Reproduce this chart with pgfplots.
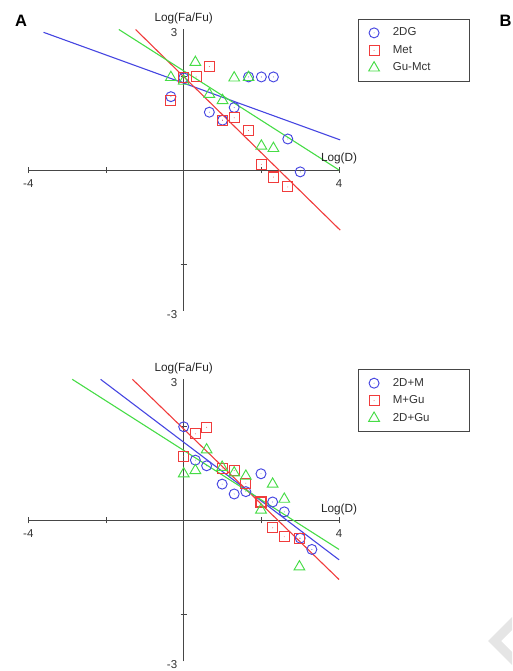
\documentclass[border=0pt]{standalone}
\usepackage{fontspec}
\setmainfont{Liberation Sans}
\usepackage{pgfplots}
\pgfplotsset{compat=1.18}
\definecolor{cblue}{RGB}{70,70,225}
\definecolor{cred}{RGB}{240,60,60}
\definecolor{cgreen}{RGB}{70,220,70}
\definecolor{axgray}{RGB}{70,70,70}
\pgfdeclareplotmark{ocirc}{%
  \pgfpathcircle{\pgfpointorigin}{\pgfplotmarksize}\pgfusepathqstroke
  \pgfpathcircle{\pgfpointorigin}{0.45pt}\pgfusepathqfill}
\pgfdeclareplotmark{osquare}{%
  \pgfpathmoveto{\pgfpoint{-\pgfplotmarksize}{-\pgfplotmarksize}}%
  \pgfpathlineto{\pgfpoint{\pgfplotmarksize}{-\pgfplotmarksize}}%
  \pgfpathlineto{\pgfpoint{\pgfplotmarksize}{\pgfplotmarksize}}%
  \pgfpathlineto{\pgfpoint{-\pgfplotmarksize}{\pgfplotmarksize}}%
  \pgfpathclose\pgfusepathqstroke
  \pgfpathcircle{\pgfpointorigin}{0.45pt}\pgfusepathqfill}
\pgfdeclareplotmark{otri}{%
  \pgfpathmoveto{\pgfpoint{0pt}{\pgfplotmarksize}}%
  \pgfpathlineto{\pgfpoint{-0.866\pgfplotmarksize}{-0.5\pgfplotmarksize}}%
  \pgfpathlineto{\pgfpoint{0.866\pgfplotmarksize}{-0.5\pgfplotmarksize}}%
  \pgfpathclose\pgfusepathqstroke}
\pgfplotsset{
  comb/.style={
    scale only axis, width=310.7pt, height=282pt,
    anchor=origin,
    xmin=-4, xmax=4, ymin=-3, ymax=3,
    clip=false,
    axis lines=middle,
    axis line style={axgray, line width=0.9pt, -},
    tick style={axgray, line width=0.9pt},
    major tick length=6pt, tick align=center,
    xtick={-4,-2,2,4}, xticklabels={-4,,,4},
    ytick={-2,2}, yticklabels={,},
    extra y ticks={-3,3}, extra y tick labels={-3,3},
    extra y tick style={major tick length=0pt, yticklabel style={xshift=-3pt, yshift=-3.5pt}},
    /pgf/number format/assume math mode=true,
    tick label style={font=\fontsize{11.5}{13}\selectfont, text=black!80},
    xticklabel style={yshift=-3pt},
    xlabel={Log(D)}, ylabel={Log(Fa/Fu)},
    x label style={at={(axis cs:4,0)}, anchor=base, yshift=8.3pt, font=\fontsize{11.8}{13}\selectfont, text=black!85},
    y label style={at={(axis cs:0,3)}, anchor=base, yshift=8.0pt, rotate=0, font=\fontsize{11.8}{13}\selectfont, text=black!85},
    legend style={at={(axis description cs:1.061,1.035)}, anchor=north west,
      draw=axgray, line width=1pt, inner xsep=10.2pt, inner ysep=4.5pt,
      font=\fontsize{11.5}{13}\selectfont, text=black!80,
      nodes={text height=8.5pt, text depth=2.5pt, inner ysep=3.25pt},
      legend cell align=left},
    every axis plot/.append style={line width=1.1pt},
  },
  bl/.style={only marks, mark=ocirc, mark size=5pt, cblue, line width=0.95pt},
  rd/.style={only marks, mark=osquare, mark size=5pt, cred, line width=1.1pt},
  gr/.style={only marks, mark=otri, mark size=6.2pt, cgreen, line width=0.95pt},
}
\newcommand{\legtxt}[1]{\makebox[76pt][l]{\hspace{11.4pt}#1}}
\begin{document}
\begin{tikzpicture}
\useasboundingbox (0,0) rectangle (512pt,-671pt);
\node[font=\bfseries\fontsize{16.5}{16.5}\selectfont] at (21pt,-20.5pt) {A};
\node[font=\bfseries\fontsize{16.5}{16.5}\selectfont] at (505.5pt,-20.5pt) {B};
\fill[black!10] (512pt,-617pt) -- (488pt,-641pt) -- (512pt,-665pt) -- (512pt,-652pt) -- (501pt,-641pt) -- (512pt,-630pt) -- cycle;
% ---------------- Panel A top
\begin{axis}[comb, at={(183.7pt,-170pt)}]
\addplot[cblue, no markers, forget plot] coordinates {(-3.61,2.93) (4.03,0.64)};
\addplot[cred, no markers, forget plot] coordinates {(-1.24,2.99) (4.03,-1.28)};
\addplot[cgreen, no markers, forget plot] coordinates {(-1.67,2.99) (4.0,0.0)};
\addplot[bl] coordinates {(-0.33,1.56) (0,1.96) (0.66,1.23) (1.0,1.06) (1.3,1.33) (1.67,1.98) (2.0,1.98) (2.31,1.98) (2.68,0.66) (3.0,-0.04)};
\addlegendentry{\legtxt{2DG}}
\addplot[rd] coordinates {(-0.33,1.47) (0,1.96) (0.32,1.98) (0.66,2.2) (1.0,1.06) (1.3,1.11) (1.67,0.84) (2.0,0.12) (2.31,-0.15) (2.68,-0.36)};
\addlegendentry{\legtxt{Met}}
\addplot[gr] coordinates {(-0.33,1.97) (0,1.89) (0.3,2.29) (0.66,1.61) (1.0,1.48) (1.3,1.96) (1.67,1.97) (2.0,0.51) (2.31,0.46)};
\addlegendentry{\legtxt{Gu-Mct}}
\end{axis}
% ---------------- bottom
\begin{axis}[comb, at={(183.7pt,-520.3pt)}]
\addplot[cblue, no markers, forget plot] coordinates {(-2.14,3.0) (4.0,-0.84)};
\addplot[cred, no markers, forget plot] coordinates {(-1.32,3.0) (4.0,-1.26)};
\addplot[cgreen, no markers, forget plot] coordinates {(-2.87,3.0) (4.0,-0.62)};
\addplot[bl] coordinates {(0,1.99) (0.3,1.28) (0.59,1.16) (0.99,0.77) (1.3,0.56) (1.6,0.61) (1.99,0.99) (2.29,0.39) (2.59,0.18) (3.0,-0.38) (3.3,-0.62)};
\addlegendentry{\legtxt{2D+M}}
\addplot[rd] coordinates {(0,1.36) (0.3,1.84) (0.59,1.98) (0.99,1.11) (1.3,1.06) (1.6,0.79) (1.99,0.39) (2.29,-0.16) (2.59,-0.35) (2.98,-0.38)};
\addlegendentry{\legtxt{M+Gu}}
\addplot[gr] coordinates {(0,0.99) (0.3,1.06) (0.59,1.5) (0.99,1.13) (1.3,1.01) (1.6,0.94) (1.99,0.22) (2.29,0.77) (2.59,0.45) (2.98,-0.99)};
\addlegendentry{\legtxt{2D+Gu}}
\end{axis}
\end{tikzpicture}
\end{document}
